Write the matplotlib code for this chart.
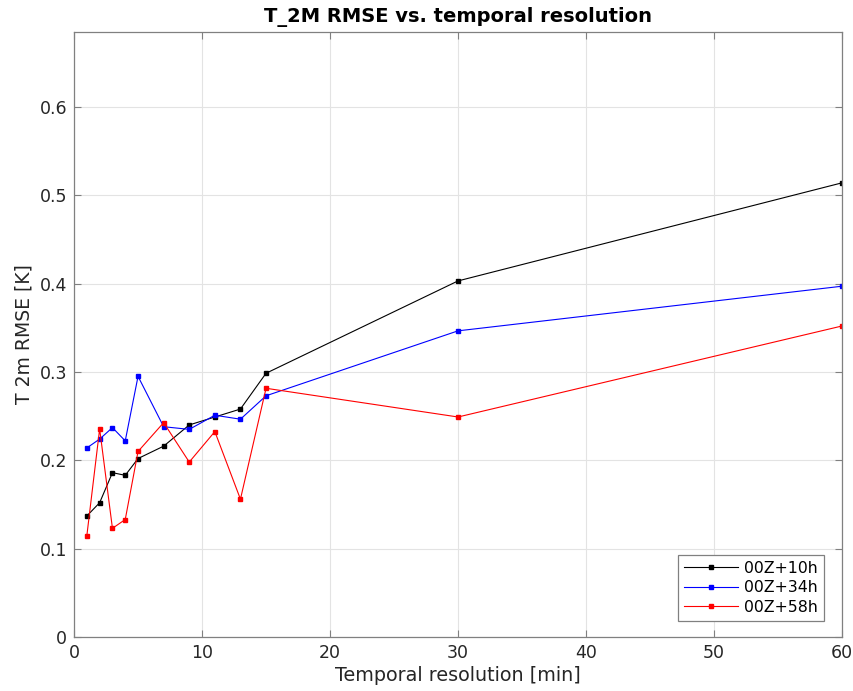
import numpy as np
import matplotlib
matplotlib.use('Agg')
import matplotlib.pyplot as plt

# temporal resolution [min]
res = [1, 2, 3, 4, 5, 7, 9, 11, 13, 15, 30, 60]

rmse_10h = [0.137, 0.152, 0.186, 0.183, 0.202, 0.216, 0.240, 0.249, 0.258, 0.2985, 0.403, 0.514]
rmse_34h = [0.214, 0.224, 0.237, 0.222, 0.295, 0.238, 0.235, 0.251, 0.2465, 0.273, 0.3465, 0.397]
rmse_58h = [0.1147, 0.2355, 0.123, 0.133, 0.210, 0.2426, 0.198, 0.2325, 0.156, 0.2815, 0.249, 0.352]

labels = ['00Z+10h', '00Z+34h', '00Z+58h']
colors = ['black', 'blue', 'red']

plt.rcParams['font.family'] = 'DejaVu Sans'
fig = plt.figure(figsize=(8.54, 6.91), dpi=100)
ax = fig.add_axes([0.0867, 0.0781, 0.8993, 0.876])

for y, lab, c in zip([rmse_10h, rmse_34h, rmse_58h], labels, colors):
    ax.plot(res, y, color=c, linewidth=0.8, marker='s', markersize=2.5, label=lab)

ax.set_xlim(0, 60)
ax.set_ylim(0, 0.685)
ax.set_xticks(np.arange(0, 61, 10))
ax.set_yticks([0, 0.1, 0.2, 0.3, 0.4, 0.5, 0.6])
ax.set_yticklabels(['0', '0.1', '0.2', '0.3', '0.4', '0.5', '0.6'])
ax.grid(color='#e3e3e3', linewidth=0.8)
ax.set_axisbelow(True)
for s in ax.spines.values():
    s.set_color('#808080')
    s.set_linewidth(0.9)
ax.tick_params(direction='in', top=True, right=True, length=5, color='#808080',
               labelsize=12.5, labelcolor='#262626', pad=5)

ax.set_xlabel('Temporal resolution [min]', fontsize=13.8, color='#262626', labelpad=3)
ax.set_ylabel('T 2m RMSE [K]', fontsize=13.5, color='#262626', labelpad=4)
ax.set_title('T_2M RMSE vs. temporal resolution', fontsize=14, fontweight='bold', pad=7)

leg = ax.legend(loc='lower right', bbox_to_anchor=(0.9766, 0.0264), borderaxespad=0,
                fontsize=11.3, fancybox=False, framealpha=1, edgecolor='#808080',
                handlelength=3.4, handletextpad=0.4, labelspacing=0.28,
                numpoints=1, borderpad=0.4)
leg.get_frame().set_linewidth(0.9)

fig.savefig('out.png', dpi=100)
